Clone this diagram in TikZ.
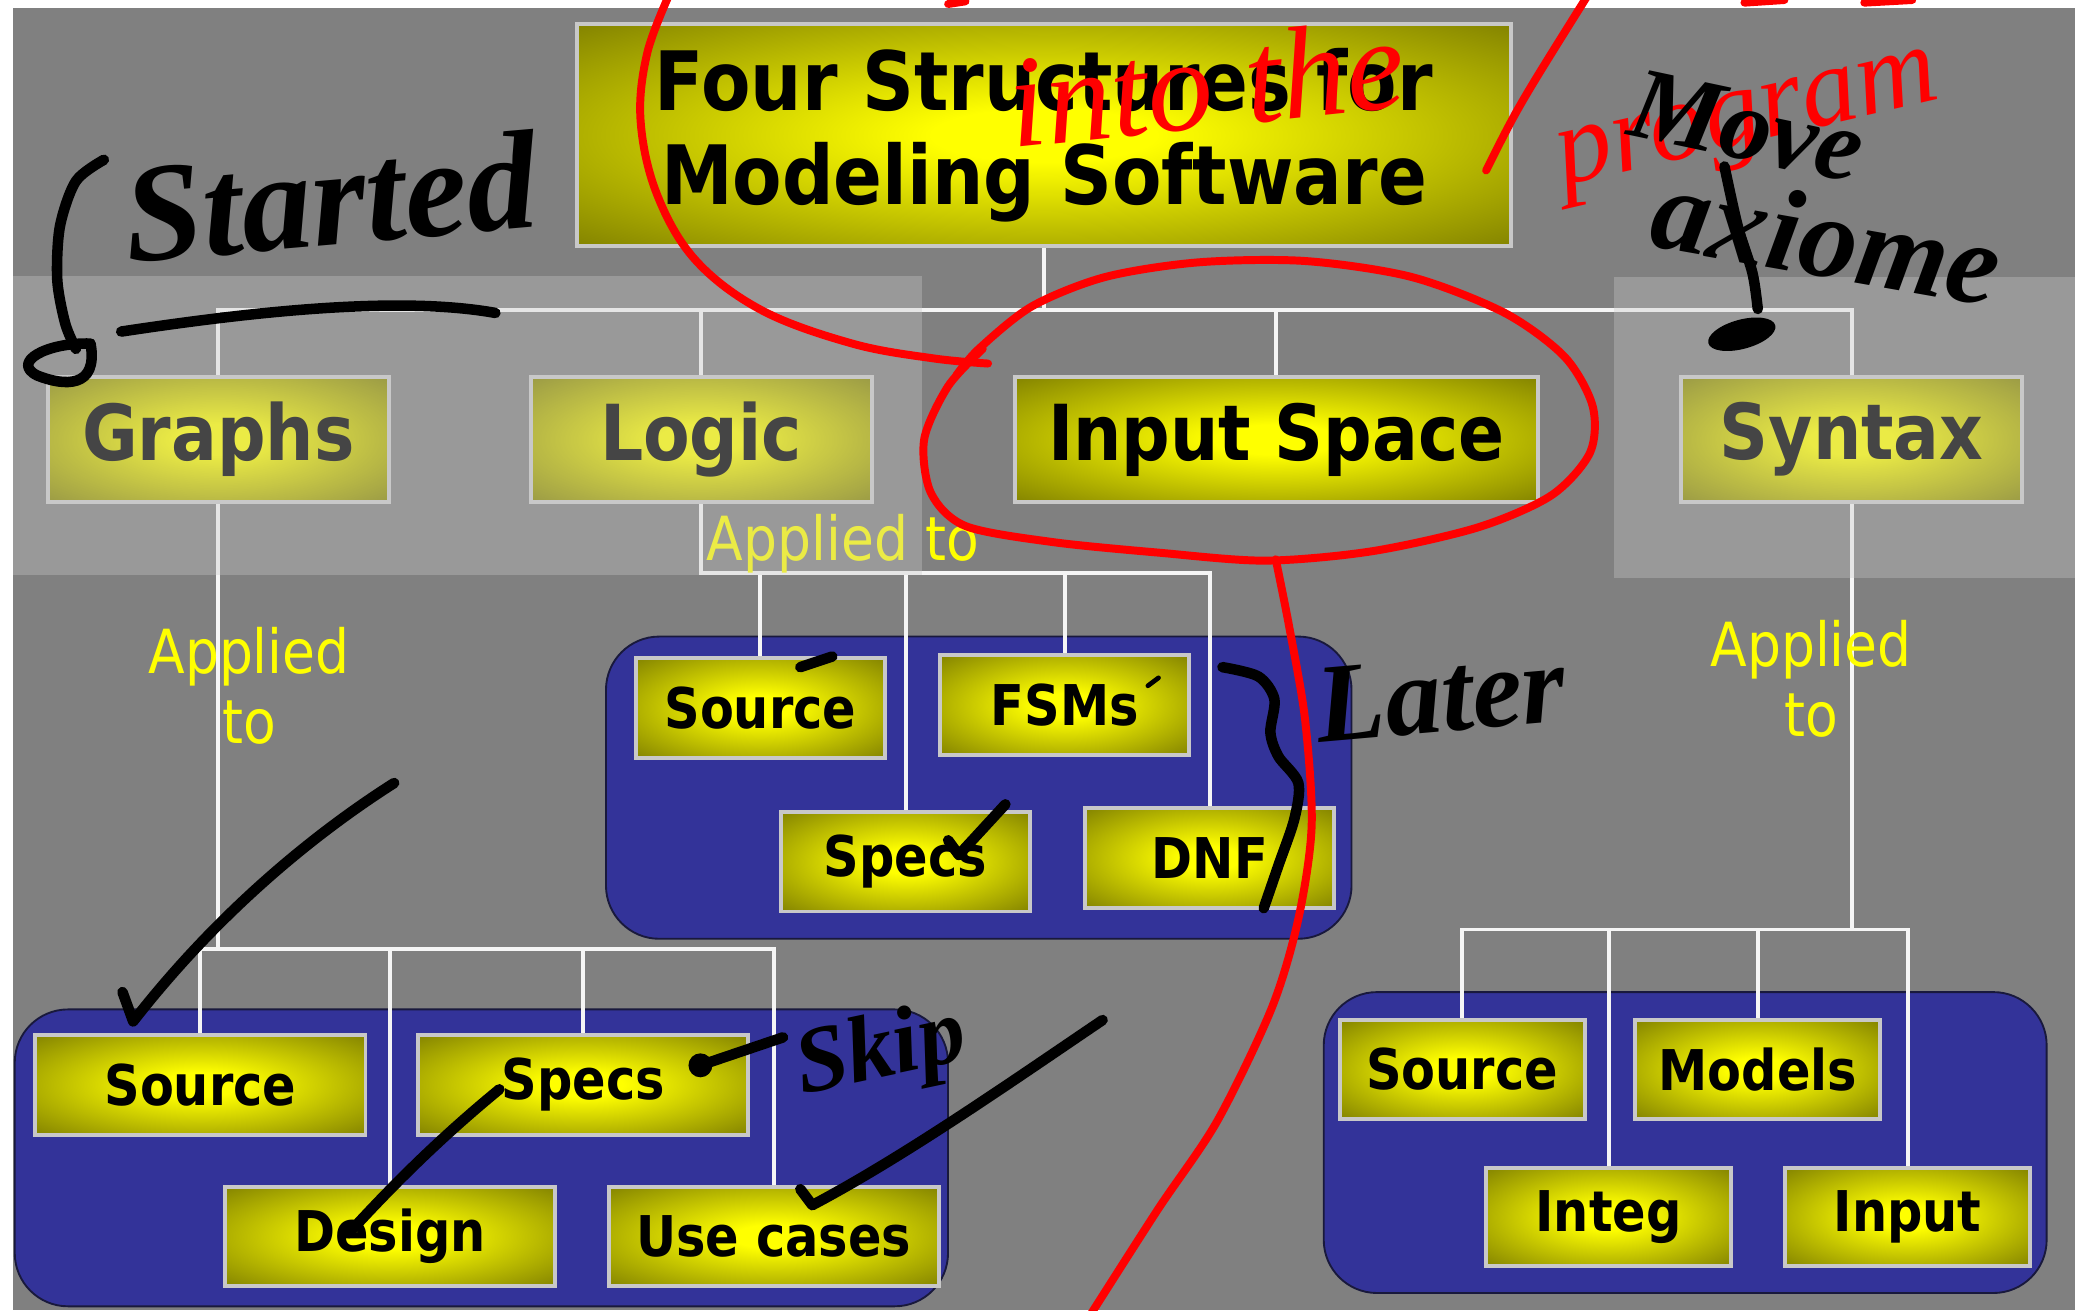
\documentclass[tikz,border=0pt]{standalone}
\usepackage{fontspec}
\setmainfont{DejaVu Sans}[FakeStretch=0.88]
\newfontfamily\inkfont{Liberation Serif}
\usepackage{xcolor}
\usepackage{tikz}

\definecolor{slidegray}{RGB}{128,128,128}
\definecolor{boxedge}{RGB}{112,112,0}
\definecolor{boxline}{RGB}{200,200,200}
\definecolor{panelblue}{RGB}{51,51,153}
\definecolor{paneledge}{RGB}{25,25,60}
\definecolor{wire}{RGB}{245,245,245}
\definecolor{veil}{RGB}{200,200,200}
\definecolor{labelyellow}{RGB}{255,255,0}
\definecolor{inkred}{RGB}{255,0,0}

% yellow centre fading to olive at the box edges
\pgfdeclareradialshading{boxglow}{\pgfpoint{0bp}{0bp}}{color(0bp)=(yellow); color(6bp)=(yellow); color(40bp)=(boxedge); color(50bp)=(boxedge)}

\begin{document}
\begin{tikzpicture}[x=0.02cm,y=-0.02cm,
  topbox/.style={draw=boxline,line width=1.7pt,shade,shading=boxglow,inner sep=0pt,minimum width=5.12cm,minimum height=1.88cm,font=\fontsize{33}{38}\selectfont\bfseries},
  titlebox/.style={topbox,align=center,font=\fontsize{35}{40}\selectfont\bfseries},
  leaf/.style={topbox,minimum width=3.74cm,minimum height=1.5cm,font=\fontsize{24}{28}\selectfont\bfseries},
  wideleaf/.style={leaf,minimum width=4.96cm},
  panel/.style={draw=paneledge,line width=0.8pt,fill=panelblue,rounded corners=0.8cm,inner sep=0pt},
  link/.style={draw=wire,line width=1.7pt},
  applied/.style={text=labelyellow,align=center,inner sep=0pt,font=\fontsize{26}{30}\selectfont},
  ink/.style={draw=black,line width=4.5pt,line cap=round,line join=round},
  redink/.style={ink,draw=inkred,line width=3.4pt},
  inktext/.style={inner sep=0pt,font=\inkfont\bfseries\itshape\fontsize{#1}{#1}\selectfont},
  redtext/.style={inner sep=0pt,text=inkred,font=\inkfont\itshape\fontsize{#1}{#1}\selectfont}
]

\useasboundingbox (0,0) rectangle (1568,984);

% slide background
\fill[white] (0,0) rectangle (1568,984);
\fill[slidegray] (9.4,6.3) rectangle (1558,984);

% Blue panels
\node[panel,minimum width=11.2cm,minimum height=4.54cm] (logicpanel) at (735,591.5) {};
\node[panel,minimum width=14.02cm,minimum height=4.46cm] (graphpanel) at (361.5,869.5) {};
\node[panel,minimum width=10.86cm,minimum height=4.52cm] (syntaxpanel) at (1265.5,858) {};

% Title
\node[titlebox,minimum width=14.04cm,minimum height=3.34cm] (title) at (784,101.5) {Four Structures for\\Modeling Software};

% Four structures
\node[topbox] (graphs) at (164,330) {Graphs};
\node[topbox] (logic) at (526.5,330) {Logic};
\node[topbox,minimum width=7.86cm] (inspace) at (958.5,330) {Input Space};
\node[topbox] (syntax) at (1390.5,330) {Syntax};

% Logic leaves
\node[leaf] (source1) at (571,531.5) {Source};
\node[leaf] (fsms) at (799.5,529.5) {FSMs};
\node[leaf] (specs1) at (680,647) {Specs};
\node[leaf] (dnf) at (908.5,644.5) {DNF};

% Graph leaves
\node[wideleaf] (source2) at (150.5,814.5) {Source};
\node[wideleaf] (specs2) at (438,814.5) {Specs};
\node[wideleaf] (design) at (293,928.5) {Design};
\node[wideleaf] (usecases) at (581,928.5) {Use cases};

% Syntax leaves
\node[leaf,minimum width=3.68cm,minimum height=1.48cm] (source3) at (1098,803) {Source};
\node[leaf,minimum width=3.68cm,minimum height=1.48cm] (models) at (1320,803) {Models};
\node[leaf,minimum width=3.68cm,minimum height=1.48cm] (integ) at (1208,914) {Integ};
\node[leaf,minimum width=3.68cm,minimum height=1.48cm] (input) at (1432.5,914) {Input};

% Tree lines
\coordinate (topbus) at (0,233);
\draw[link] (title.south) -- (title.south |- topbus);
\draw[link] (graphs.north) -- (graphs.north |- topbus) -- (syntax.north |- topbus) -- (syntax.north);
\draw[link] (logic.north) -- (logic.north |- topbus);
\draw[link] (inspace.north) -- (inspace.north |- topbus);

\coordinate (logicbus) at (0,430);
\draw[link] (logic.south) -- (logic.south |- logicbus) -- (dnf.north |- logicbus) -- (dnf.north);
\foreach \n in {source1,fsms,specs1}
  \draw[link] (\n.north) -- (\n.north |- logicbus);

\coordinate (graphbus) at (0,713);
\draw[link] (graphs.south) -- (graphs.south |- graphbus);
\draw[link] (source2.north) -- (source2.north |- graphbus) -- (usecases.north |- graphbus) -- (usecases.north);
\foreach \n in {design,specs2}
  \draw[link] (\n.north) -- (\n.north |- graphbus);

\coordinate (syntaxbus) at (0,698);
\draw[link] (syntax.south) -- (syntax.south |- syntaxbus);
\draw[link] (source3.north) -- (source3.north |- syntaxbus) -- (input.north |- syntaxbus) -- (input.north);
\foreach \n in {integ,models}
  \draw[link] (\n.north) -- (\n.north |- syntaxbus);

% Applied to labels
\node[applied] (applygraphs) at (187,515) {Applied\\to};
\node[applied,anchor=base] (applylogic) at (633,421) {Applied to};
\node[applied] (applysyntax) at (1360,510) {Applied\\to};

% faded bands over the other structures
\fill[veil,opacity=0.35] (9.4,207) rectangle (692,432);
\fill[veil,opacity=0.35] (1212,208) rectangle (1558,434);

% pen notes
\begin{scope}
\clip (0,0) rectangle (1568,984);

% red loop round the title and input space
\draw[redink] plot[smooth,tension=0.6] coordinates {(503,-5) (486,40) (481,90) (493,145) (522,195) (572,233) (640,258) (700,269) (742,273)};
\draw[redink] plot[smooth] coordinates {(738,262) (712,290) (694,330) (699,370) (725,395) (790,407) (870,415) (950,421) (1030,414) (1110,396) (1165,372) (1194,340) (1196,305) (1175,268) (1130,235) (1060,208) (980,196) (900,197) (830,208) (775,230) (735,262) (718,282)};
\draw[redink] plot[smooth] coordinates {(958,420) (968,470) (980,540) (985,620) (975,690) (955,757) (914,842) (869,909) (814,995)};
\draw[redink] (1116,128) .. controls (1140,80) .. (1192,-3);
\draw[redink] (712,3) -- (725,1);
\draw[redink] (1310,2) -- (1340,0);
\draw[redink] (1400,2) -- (1436,0);
\node[redtext=56,rotate=6] (inkinto) at (906,62) {into the};
\node[redtext=48,rotate=13] (inkprogram) at (1314,96) {program};

% started arrow
\draw[ink] plot[smooth] coordinates {(78,120) (57,136) (45,170) (43,210) (49,243) (57,262)};
\draw[ink] (68,258) .. controls (35,257) and (8,272) .. (28,282) .. controls (48,290) and (74,292) .. (68,258);
\draw[ink] (91,249) .. controls (190,234) and (300,222) .. (372,235);
\node[inktext=60,rotate=5] (inkstarted) at (248,148) {Started};

% ticks and strokes
\draw[ink] (92,745) -- (100,767) .. controls (160,690) and (230,630) .. (296,588);
\draw[ink] (375,818) .. controls (330,855) and (295,890) .. (262,926);
\fill (526,800) circle[radius=0.18cm];
\draw[ink] (526,800) -- (588,779);
\draw[ink] (601,893) -- (610,905) .. controls (680,868) and (760,812) .. (828,766);
\draw[ink] (712,631) -- (720,642) -- (755,604);
\draw[ink] (601,501) -- (625,493);
\draw[ink,line width=2pt] (862,515) -- (870,509);
\node[inktext=40,rotate=12] (inkskip) at (662,792) {Skip};

% later bracket
\draw[ink] plot[smooth] coordinates {(918,501) (945,508) (957,525) (954,550) (960,568) (975,588) (972,615) (960,650) (949,682)};
\node[inktext=48,rotate=5] (inklater) at (1082,522) {Later};

% move axiome arrow
\draw[ink] plot[smooth] coordinates {(1295,125) (1305,170) (1316,205) (1320,232)};
\fill[rotate around={15:(1308,251)}] (1308,251) ellipse[x radius=0.52cm,y radius=0.22cm];
\node[inktext=44,rotate=-12] (inkmove) at (1312,95) {Move};
\node[inktext=50,rotate=-10] (inkaxiome) at (1372,178) {axiome};
\end{scope}

\end{tikzpicture}
\end{document}
